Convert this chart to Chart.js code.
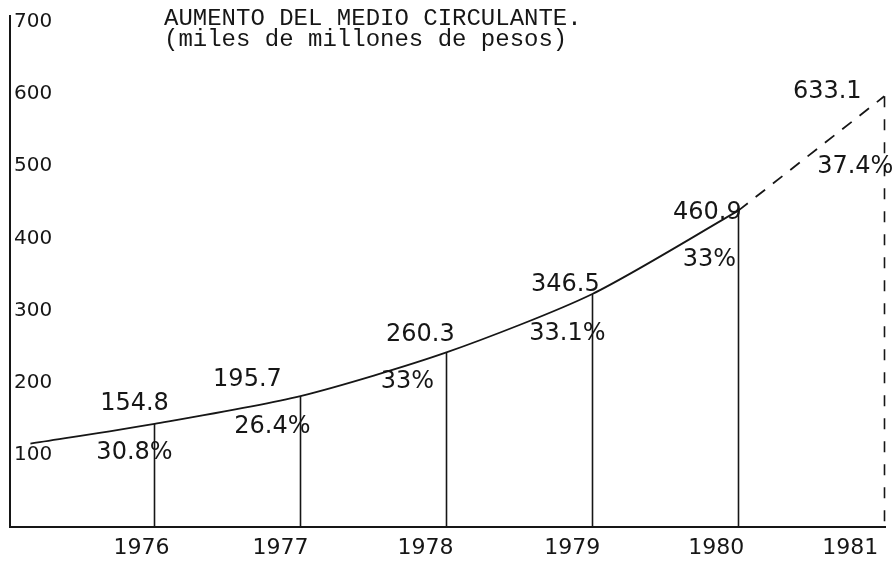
<!DOCTYPE html>
<html>
<head>
<meta charset="utf-8">
<title>Aumento del medio circulante</title>
<script src="https://cdn.jsdelivr.net/npm/chart.js@4.4.1/dist/chart.umd.min.js"></script>
<style>
    body { margin: 0; background: #fff; }
    canvas { display: block; }
</style>
</head>
<body>
<canvas id="chart" width="892" height="561"></canvas>
<script>
// data
const years = [1976, 1977, 1978, 1979, 1980, 1981];
const circulante = [154.8, 195.7, 260.3, 346.5, 460.9, 633.1];   // written values
const aumento = [30.8, 26.4, 33, 33.1, 33, 37.4];                 // written % growth
const trazo = [143, 181.5, 242, 323, 438.5, 597];                  // height the curve is drawn at
const inicioAnio = 1975.15;
const inicioValor = 115.5;
const yTicks = [100, 200, 300, 400, 500, 600, 700];
const titulo = ["AUMENTO DEL MEDIO CIRCULANTE.", "(miles de millones de pesos)"];

const ink = "#161616";

// solid part up to 1980, dashed estimate for 1981
const solida = [{ x: inicioAnio, y: inicioValor }];
for (let i = 0; i < years.length - 1; i++) {
    solida.push({ x: years[i], y: trazo[i] });
}
const n = years.length;
const estimada = [
    { x: years[n - 2], y: trazo[n - 2] },
    { x: years[n - 1], y: trazo[n - 1] }
];

// label offsets from each point, in px (typed by hand, not centred)
const offValor = [[-20, -20], [-53, -16], [-26, -18], [-27, -9], [-31, 2], [-57, -5]];
const offPct = [[-20, 29], [-28, 31], [-39, 29], [-25, 40], [-29, 49], [-29, 70]];
const offAnio = [-13, -20, -21, -20, -22, -34];

const fmtPct = v => `${v}%`;

// verticals, labels and title
const anotaciones = {
    id: "anotaciones",
    afterDatasetsDraw(chart) {
        const ctx = chart.ctx;
        const xs = chart.scales.x;
        const ys = chart.scales.y;
        const area = chart.chartArea;
        ctx.save();

        // drop lines from the curve to the axis
        ctx.strokeStyle = ink;
        ctx.lineWidth = 1.6;
        for (let i = 0; i < years.length; i++) {
            const px = Math.round(xs.getPixelForValue(years[i])) + 0.5;
            const top = ys.getPixelForValue(trazo[i]);
            ctx.setLineDash(i === years.length - 1 ? [11, 12] : []);
            ctx.beginPath();
            ctx.moveTo(px, top);
            ctx.lineTo(px, area.bottom);
            ctx.stroke();
        }
        ctx.setLineDash([]);

        // values and percentages
        ctx.fillStyle = ink;
        ctx.textAlign = "center";
        ctx.textBaseline = "middle";
        ctx.font = "24px 'DejaVu Sans'";
        for (let i = 0; i < years.length; i++) {
            const px = xs.getPixelForValue(years[i]);
            const py = ys.getPixelForValue(trazo[i]);
            ctx.fillText(circulante[i].toFixed(1), px + offValor[i][0], py + offValor[i][1]);
            ctx.fillText(fmtPct(aumento[i]), px + offPct[i][0], py + offPct[i][1]);
        }

        // year labels under the axis
        ctx.font = "22px 'DejaVu Sans'";
        for (let i = 0; i < years.length; i++) {
            ctx.fillText(String(years[i]), xs.getPixelForValue(years[i]) + offAnio[i], area.bottom + 21);
        }

        // typewritten title
        ctx.textAlign = "left";
        ctx.textBaseline = "alphabetic";
        ctx.font = "24px 'Liberation Mono'";
        ctx.fillText(titulo[0], 164, 25);
        ctx.fillText(titulo[1], 164, 46);

        ctx.restore();
    }
};

const canvas = document.getElementById("chart");
const ctx = canvas.getContext("2d");

let chart = new Chart(ctx, {
    type: "line",
    data: {
        datasets: [
            {
                data: solida,
                borderColor: ink,
                borderWidth: 1.8,
                pointRadius: 0,
                tension: 0.25,
                fill: false
            },
            {
                data: estimada,
                borderColor: ink,
                borderWidth: 1.8,
                borderDash: [12, 10],
                pointRadius: 0,
                tension: 0,
                fill: false
            }
        ]
    },
    options: {
        responsive: false,
        animation: false,
        layout: {
            padding: { left: 2, top: 12, right: 7, bottom: 34 }
        },
        scales: {
            x: {
                type: "linear",
                min: 1975.01,
                max: 1981.005,
                grid: { display: false, drawTicks: false, tickLength: 0 },
                border: { color: ink, width: 2 },
                ticks: { display: false }
            },
            y: {
                min: 0,
                max: 708.3,
                afterBuildTicks: scale => {
                    scale.ticks = yTicks.map(v => ({ value: v }));
                },
                grid: { display: false, drawTicks: false, tickLength: 0 },
                border: { color: ink, width: 2 },
                ticks: {
                    mirror: true,
                    padding: 4,
                    color: ink,
                    font: { family: "DejaVu Sans", size: 20 }
                }
            }
        },
        plugins: {
            legend: { display: false },
            tooltip: { enabled: false }
        }
    },
    plugins: [anotaciones]
});
</script>
</body>
</html>
